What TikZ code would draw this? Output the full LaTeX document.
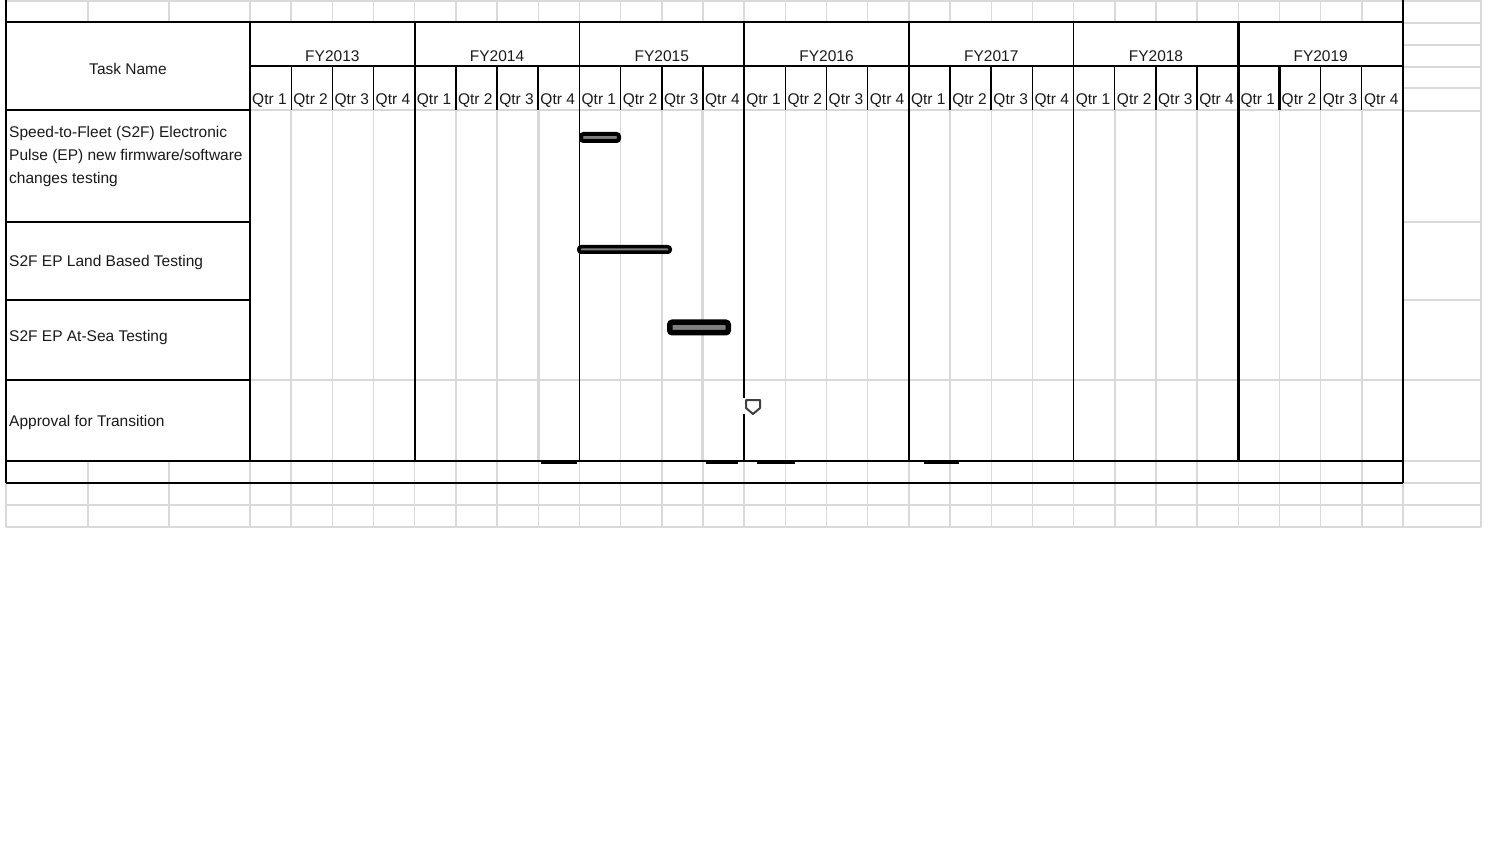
\documentclass[tikz,border=0pt]{standalone}
\usepackage{fontspec}
\setmainfont{Liberation Sans}
\definecolor{gridgray}{HTML}{D9D9D9}
\definecolor{txt}{HTML}{1A1A1A}
\definecolor{bargray}{HTML}{7F7F7F}
\definecolor{msgray}{HTML}{404040}
\begin{document}
\begin{tikzpicture}[x=1pt,y=-1pt,
  lbl/.style={font=\fontsize{15.5}{23}\selectfont, text=txt, inner sep=0pt},
  gridline/.style={draw=gridgray, line width=1.5pt},
  thickgrid/.style={draw=gridgray, line width=3pt},
  blk/.style={draw=black, line width=1.6pt},
  hblk/.style={draw=black, line width=2.4pt},
  qsep/.style={draw=black, line width=1.2pt},
  qsepthick/.style={draw=black, line width=2.2pt},
  bar/.style={draw=black, fill=bargray, rounded corners=2.5pt, inner sep=0pt},
  dashmark/.style={draw=black, line width=2.4pt}]
\useasboundingbox[fill=white] (0,0) rectangle (1497,842);

% ---------- light spreadsheet grid ----------
% top row
\draw[gridline] (6,1) -- (1481,1);
\foreach \gx in {88,169} \draw[gridline] (\gx,0) -- (\gx,22);
\foreach \i in {0,...,27} \draw[gridline] ({250+41.18*\i},0) -- ({250+41.18*\i},22);
% right-hand column
\foreach \gy in {23,45,67,88,111,222,300,380,461,483} \draw[gridline] (1403,\gy) -- (1481,\gy);
\draw[gridline] (1481,0) -- (1481,527);
% rows below the table
\foreach \gy in {505,527} \draw[gridline] (6,\gy) -- (1481,\gy);
\draw[gridline] (6,483) -- (6,527);
\foreach \gx in {88,169} \draw[gridline] (\gx,461) -- (\gx,527);
\foreach \i in {0,...,27} \draw[gridline] ({250+41.18*\i},461) -- ({250+41.18*\i},527);
\draw[gridline] (1403,483) -- (1403,527);
% chart body
\draw[gridline] (250,110) -- (1403,110);
\draw[gridline] (250,380) -- (1403,380);
\foreach \i in {1,2,3,5,6,9,13,14,15,17,18,19,21,22,23,25,26,27}
  \draw[gridline] ({250+41.18*\i},110) -- ({250+41.18*\i},461);
\foreach \i in {7,11}
  \draw[thickgrid] ({250+41.18*\i},110) -- ({250+41.18*\i},461);
\draw[gridline] ({250+41.18*10},110) -- ({250+41.18*10},461);

% ---------- black table lines ----------
\draw[blk] (6,0) -- (6,483);
\draw[blk] (1403,0) -- (1403,483);
\draw[blk] (6,22) -- (1403,22);
\draw[blk] (250,66) -- (1403,66);
\foreach \gy in {110,222,300,380} \draw[blk] (6,\gy) -- (250,\gy);
\draw[hblk] (6,461) -- (1403,461);
\draw[hblk] (6,483) -- (1403,483);
\draw[hblk] (250,22) -- (250,461);
\foreach \i in {4,8,12,16,20,24}
  \draw[blk] ({250+41.18*\i},22) -- ({250+41.18*\i},461);
\draw[hblk] ({250+41.18*24},22) -- ({250+41.18*24},461);
\foreach \i in {1,2,3,5,6,9,13,14,15,17,19,21,22,26,27}
  \draw[qsep] ({250+41.18*\i},66) -- ({250+41.18*\i},110);
\foreach \i in {7,10,11,18,23,25}
  \draw[qsepthick] ({250+41.18*\i},66) -- ({250+41.18*\i},110);
% short black marks under the last row
\draw[dashmark] (541,462.5) -- (577,462.5);
\draw[dashmark] (706,462.5) -- (738,462.5);
\draw[dashmark] (757,462.5) -- (795,462.5);
\draw[dashmark] (924,462.5) -- (959,462.5);

% ---------- header texts ----------
\node[lbl, anchor=base] (taskname) at (128,75) {Task Name};
\foreach \yr [count=\k from 0] in {2013,2014,2015,2016,2017,2018,2019}
  \node[lbl, anchor=base] (fy\yr) at ({250+41.18*(4*\k+2)},61.5) {FY\yr};
\foreach \i in {0,...,27} {
  \pgfmathtruncatemacro{\qn}{mod(\i,4)+1}
  \node[lbl, anchor=base west] (q\i) at ({252+41.18*\i},104.5) {Qtr \qn};
}

% ---------- task names ----------
\node[lbl, anchor=north west, align=left] (t1) at (9,126)
  {Speed-to-Fleet (S2F) Electronic\\Pulse (EP) new firmware/software\\changes testing};
\node[lbl, anchor=base west] (t2) at (9,266.5) {S2F EP Land Based Testing};
\node[lbl, anchor=base west] (t3) at (9,341.5) {S2F EP At-Sea Testing};
\node[lbl, anchor=base west] (t4) at (9,426.5) {Approval for Transition};

% ---------- bars ----------
\node[bar, line width=4pt, minimum width=38pt, minimum height=7pt] (b1) at (600,137.5) {};
\node[bar, line width=3.5pt, minimum width=91.5pt, minimum height=5.5pt] (b2) at (624.5,249.5) {};
\node[bar, line width=5.5pt, minimum width=58.5pt, minimum height=10.5pt] (b3) at (699,327.5) {};

% ---------- milestone ----------
\coordinate (ms) at (753,407);
\fill[white] (742,398) rectangle (746,414);
\draw[msgray, line width=2pt, fill=white, line join=round, shift={(ms)}]
  (-7,-7) -- (7,-7) -- (7,1) -- (0,7) -- (-7,1) -- cycle;
\end{tikzpicture}
\end{document}
